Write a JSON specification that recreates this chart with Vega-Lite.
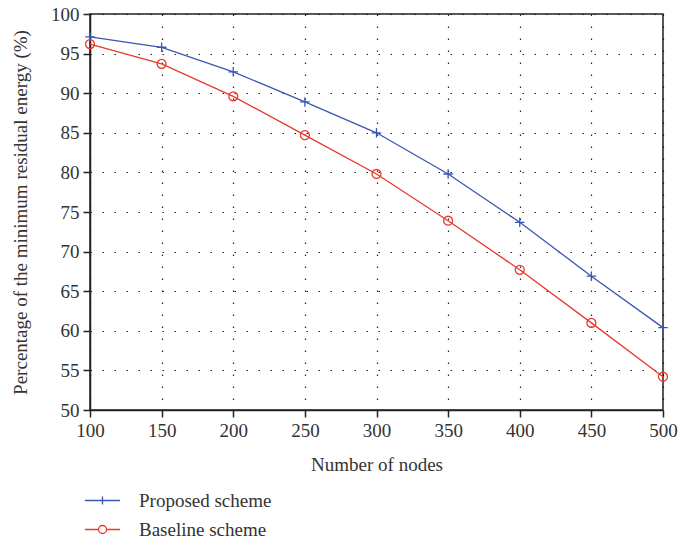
{
  "$schema": "https://vega.github.io/schema/vega-lite/v6.json",
  "width": 573,
  "height": 396,
  "autosize": "none",
  "padding": {"left": 90, "top": 14, "right": 16, "bottom": 130},
  "background": "white",
  "config": {
    "font": "Liberation Serif",
    "view": {"stroke": "#222", "strokeWidth": 1.5},
    "axis": {
      "domainColor": "#222", "domainWidth": 1.5,
      "tickColor": "#222", "tickWidth": 1.5, "tickSize": 7,
      "labelFont": "Liberation Serif", "labelFontSize": 19, "labelColor": "#333", "labelFlush": false, "labelOverlap": false,
      "titleFont": "Liberation Serif", "titleFontSize": 19, "titleFontWeight": "normal", "titleColor": "#333",
      "grid": true, "gridColor": "#111", "gridDash": [1.5, 10.5], "gridWidth": 1.2, "gridOpacity": 0.9
    }
  },
  "data": {"values": [
    {"nodes": 100, "series": "Proposed scheme", "value": 97.1},
    {"nodes": 150, "series": "Proposed scheme", "value": 95.8},
    {"nodes": 200, "series": "Proposed scheme", "value": 92.7},
    {"nodes": 250, "series": "Proposed scheme", "value": 88.9},
    {"nodes": 300, "series": "Proposed scheme", "value": 85.0},
    {"nodes": 350, "series": "Proposed scheme", "value": 79.8},
    {"nodes": 400, "series": "Proposed scheme", "value": 73.7},
    {"nodes": 450, "series": "Proposed scheme", "value": 66.9},
    {"nodes": 500, "series": "Proposed scheme", "value": 60.4},
    {"nodes": 100, "series": "Baseline scheme", "value": 96.2},
    {"nodes": 150, "series": "Baseline scheme", "value": 93.7},
    {"nodes": 200, "series": "Baseline scheme", "value": 89.6},
    {"nodes": 250, "series": "Baseline scheme", "value": 84.7},
    {"nodes": 300, "series": "Baseline scheme", "value": 79.8},
    {"nodes": 350, "series": "Baseline scheme", "value": 73.9},
    {"nodes": 400, "series": "Baseline scheme", "value": 67.7},
    {"nodes": 450, "series": "Baseline scheme", "value": 61.0},
    {"nodes": 500, "series": "Baseline scheme", "value": 54.2}
  ]},
  "encoding": {
    "x": {"field": "nodes", "type": "quantitative",
      "scale": {"domain": [100, 500], "nice": false, "zero": false},
      "axis": {"values": [100,150,200,250,300,350,400,450,500], "title": "Number of nodes", "titlePadding": 15, "labelPadding": 4}},
    "y": {"field": "value", "type": "quantitative",
      "scale": {"domain": [50, 100], "nice": false, "zero": false},
      "axis": {"values": [50,55,60,65,70,75,80,85,90,95,100], "title": "Percentage of the minimum residual energy (%)", "titlePadding": 20, "labelPadding": 4}},
    "color": {"field": "series", "type": "nominal",
      "scale": {"domain": ["Proposed scheme", "Baseline scheme"], "range": ["#3a57b3", "#e8392b"]},
      "legend": {
        "title": null, "orient": "none", "legendX": 3, "legendY": 477, "direction": "vertical",
        "labelFont": "Liberation Serif", "labelFontSize": 19, "labelColor": "#333",
        "symbolSize": 64, "symbolStrokeWidth": 1.3, "rowPadding": 9, "labelOffset": 27,
        "encode": {"symbols": {"update": {
          "shape": {"signal": "datum.value === 'Proposed scheme' ? 'M-4.4,0L4.4,0M0,-1L0,1' : 'M-4.4,0L-1,0M1,0L4.4,0M-1,0A1,1 0 1,1 1,0A1,1 0 1,1 -1,0'"},
          "stroke": {"signal": "datum.value === 'Proposed scheme' ? '#3a57b3' : '#e8392b'"},
          "fill": {"value": "transparent"}
        }}}
      }}
  },
  "layer": [
    {"mark": {"type": "line", "strokeWidth": 1.3}},
    {"transform": [{"filter": "datum.series === 'Proposed scheme'"}],
      "mark": {"type": "point", "filled": false, "strokeWidth": 1.3, "opacity": 1, "size": 90, "shape": "M-1,0L1,0M0,-1L0,1"}},
    {"transform": [{"filter": "datum.series === 'Baseline scheme'"}],
      "mark": {"type": "point", "filled": false, "strokeWidth": 1.3, "opacity": 1, "size": 80, "shape": "circle"}}
  ]
}
